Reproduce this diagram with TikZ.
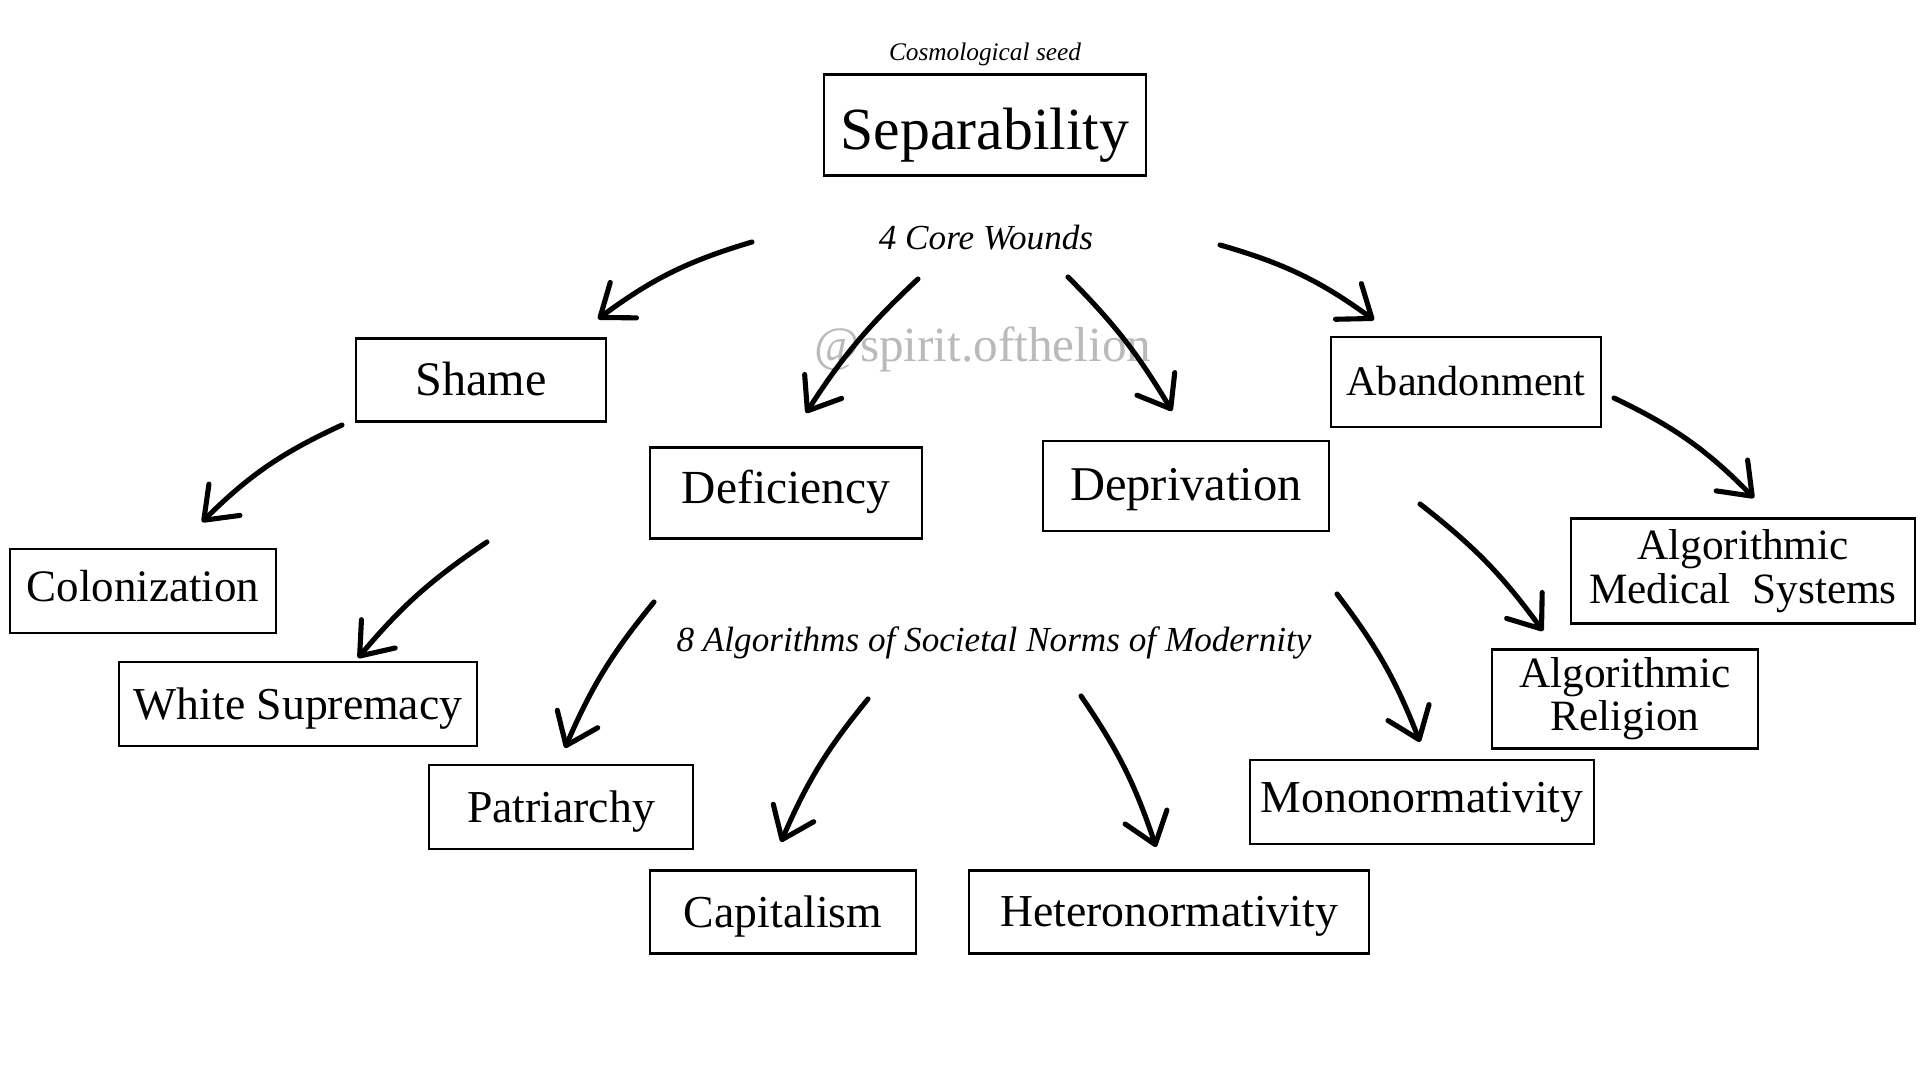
\documentclass[tikz,border=0pt]{standalone}
\usepackage{fontspec}
\setmainfont{Liberation Serif}
\usetikzlibrary{arrows.meta}
\newcommand{\fs}[1]{\fontsize{#1}{#1}\selectfont}
\begin{document}
\begin{tikzpicture}[x=0.01cm,y=-0.01cm,
  box/.style={draw, line width=0.6pt, inner sep=0pt, align=center},
  arr/.style={line width=1.45pt, line cap=round,
    -{Straight Barb[length=2.9mm,width=4.4mm,line cap=round,line join=round]}},
  lbl/.style={inner sep=0pt}]
\useasboundingbox (0,0) rectangle (1920,1080);
\fill[white] (0,0) rectangle (1920,1080);

% watermark
\node[lbl, text=black!27, font=\fs{14}] (wm) at (983,349) {@spirit.ofthelion};

% labels
\node[lbl, font=\fs{7.2}\itshape] (seed) at (985,54) {Cosmological seed};
\node[lbl, font=\fs{10}\itshape] (wounds) at (986,238) {4 Core Wounds};
\node[lbl, font=\fs{10}\itshape] (algs) at (994,643) {8 Algorithms of Societal Norms of Modernity};

% boxes
\node[box, minimum width=3.22cm, minimum height=1.01cm, font=\fs{17}, text height=18.4pt, text depth=4.25pt] (sep) at (985,125) {Separability};
\node[box, minimum width=2.50cm, minimum height=0.83cm, font=\fs{13.7}, text height=12.5pt, text depth=3.4pt] (shame) at (481,380) {Shame};
\node[box, minimum width=2.71cm, minimum height=0.91cm, font=\fs{13.5}, text height=9.2pt, text depth=3.4pt] (def) at (786,493) {Deficiency};
\node[box, minimum width=2.86cm, minimum height=0.90cm, font=\fs{13.8}, text height=11.5pt, text depth=3.45pt] (dep) at (1186,486) {Deprivation};
\node[box, minimum width=2.69cm, minimum height=0.90cm, font=\fs{12}, text height=10.9pt, text depth=3pt] (aban) at (1466,382) {Abandonment};
\node[box, minimum width=2.65cm, minimum height=0.84cm, font=\fs{12.8}, text height=9.3pt, text depth=3.2pt] (col) at (143,591) {Colonization};
\node[box, minimum width=3.57cm, minimum height=0.84cm, font=\fs{13}, text height=12.35pt, text depth=3.25pt] (ws) at (298,704) {White Supremacy};
\node[box, minimum width=2.64cm, minimum height=0.84cm, font=\fs{13}, text height=11.8pt, text depth=3.25pt] (pat) at (561,807) {Patriarchy};
\node[box, minimum width=2.66cm, minimum height=0.83cm, font=\fs{13}, text height=11.8pt, text depth=3.25pt] (cap) at (783,912) {Capitalism};
\node[box, minimum width=4.00cm, minimum height=0.83cm, font=\fs{13}, text height=11.3pt, text depth=3.25pt] (het) at (1169,912) {Heteronormativity};
\node[box, minimum width=3.44cm, minimum height=0.84cm, font=\fs{13}, text height=9pt, text depth=3.25pt] (mono) at (1422,802) {Mononormativity};
\node[box, minimum width=2.65cm, minimum height=0.99cm, font=\fontsize{12.3}{12.2}\selectfont] (rel) at (1625,699) {Algorithmic\\Religion};
\node[box, minimum width=3.44cm, minimum height=1.05cm, font=\fontsize{12.3}{12.5}\selectfont] (ams) at (1743,571) {Algorithmic\\Medical\ \ Systems};

% arrow end points
\coordinate (a1s) at (752,242);  \coordinate (a1e) at (598,319);
\coordinate (a2s) at (918,279);  \coordinate (a2e) at (806,413);
\coordinate (a3s) at (1068,277); \coordinate (a3e) at (1172,411);
\coordinate (a4s) at (1220,245); \coordinate (a4e) at (1374,320);
\coordinate (a5s) at (1614,398); \coordinate (a5e) at (1754,498);
\coordinate (a6s) at (1420,504); \coordinate (a6e) at (1543,631);
\coordinate (a7s) at (342,425);  \coordinate (a7e) at (202,522);
\coordinate (a8s) at (487,542);  \coordinate (a8e) at (358,658);
\coordinate (a9s) at (654,602);  \coordinate (a9e) at (565,748);
\coordinate (a10s) at (868,699); \coordinate (a10e) at (781,842);
\coordinate (a11s) at (1081,696);\coordinate (a11e) at (1156,847);
\coordinate (a12s) at (1337,594);\coordinate (a12e) at (1420,742);

\draw[arr] (a1s) to[bend right=10] (a1e);
\draw[arr] (a2s) to[bend right=7] (a2e);
\draw[arr] (a3s) to[bend left=7] (a3e);
\draw[arr] (a4s) to[bend left=10] (a4e);
\draw[arr] (a5s) to[bend left=10] (a5e);
\draw[arr] (a6s) to[bend left=8] (a6e);
\draw[arr] (a7s) to[bend right=10] (a7e);
\draw[arr] (a8s) to[bend right=8] (a8e);
\draw[arr] (a9s) to[bend right=8] (a9e);
\draw[arr] (a10s) to[bend right=8] (a10e);
\draw[arr] (a11s) to[bend left=8] (a11e);
\draw[arr] (a12s) to[bend left=8] (a12e);
\end{tikzpicture}
\end{document}
